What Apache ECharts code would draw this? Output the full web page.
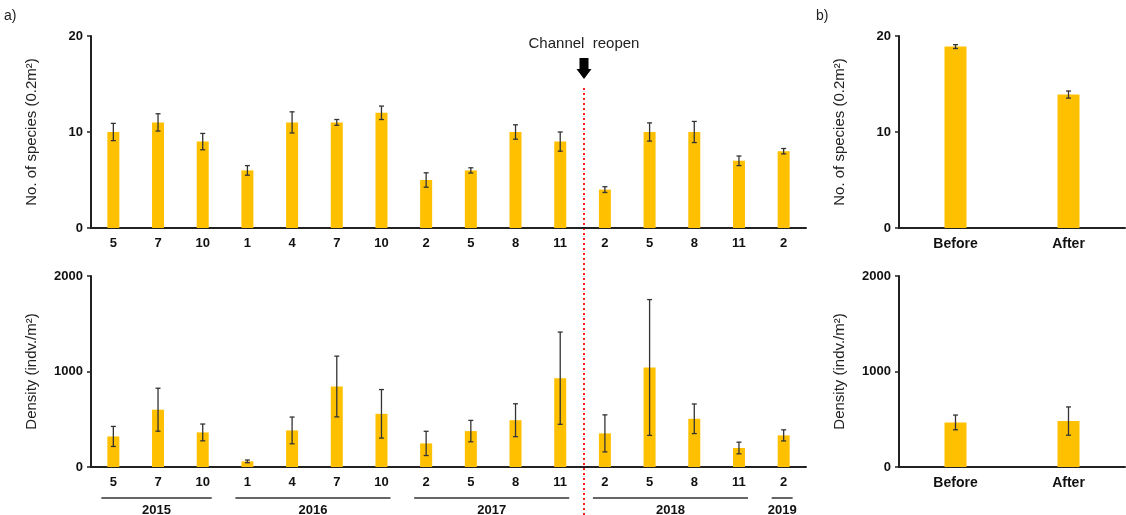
<!DOCTYPE html>
<html>
<head>
<meta charset="utf-8">
<title>Species and density</title>
<script src="https://cdn.jsdelivr.net/npm/echarts@6/dist/echarts.min.js"></script>
<style>
html, body { margin: 0; padding: 0; background: #fff; }
#chart { width: 1126px; height: 515px; }
</style>
</head>
<body>
<div id="chart"></div>
<script>
// sampling months, 2015-5 .. 2019-2
var months = ['5', '7', '10', '1', '4', '7', '10', '2', '5', '8', '11', '2', '5', '8', '11', '2']
var speciesMean = [10, 11, 9, 6, 11, 11, 12, 5, 6, 10, 9, 4, 10, 10, 7, 8]
var speciesErr = [0.9, 0.9, 0.85, 0.5, 1.1, 0.3, 0.7, 0.75, 0.27, 0.75, 1.0, 0.3, 0.95, 1.1, 0.5, 0.28]
var densityMean = [320, 600, 362, 59, 383, 843, 557, 247, 376, 490, 930, 352, 1042, 505, 199, 331]
var densityErr = [105, 225, 88, 14, 140, 318, 254, 127, 112, 172, 483, 194, 711, 155, 61, 58]

// year groups under the bottom axis (first / last month index)
var yearNames = ['2015', '2016', '2017', '2018', '2019']
var yearFirst = [0, 3, 7, 11, 15]
var yearLast = [2, 6, 10, 14, 15]

// before / after channel reopening
var periods = ['Before', 'After']
var periodSpecies = [18.9, 13.9]
var periodSpeciesErr = [0.2, 0.37]
var periodDensity = [467, 481]
var periodDensityErr = [77, 148]

var speciesTicks = [0, 20, 10]
var densityTicks = [0, 2000, 1000]

var reopenAfter = 10 // line drawn between this month and the next

var barColor = '#FFC000'
var inkColor = '#222'
var font = 'Liberation Sans, Arial, sans-serif'

function errorItem (params, api) {
  var x = api.value(0)
  var m = api.value(1)
  var e = api.value(2)
  var hi = api.coord([x, m + e])
  var lo = api.coord([x, m - e])
  var w = 2.5
  var style = { stroke: '#333', lineWidth: 1.3 }
  return {
    type: 'group',
    children: [
      { type: 'line', shape: { x1: hi[0], y1: hi[1], x2: lo[0], y2: lo[1] }, style: style },
      { type: 'line', shape: { x1: hi[0] - w, y1: hi[1], x2: hi[0] + w, y2: hi[1] }, style: style },
      { type: 'line', shape: { x1: lo[0] - w, y1: lo[1], x2: lo[0] + w, y2: lo[1] }, style: style }
    ]
  }
}

function toErr (means, errs) {
  return means.map(function (v, i) { return [i, v, errs[i]] })
}

function xAxisOf (grid, cats, size) {
  return {
    type: 'category',
    gridIndex: grid,
    data: cats,
    axisLine: { lineStyle: { color: '#222', width: 2 } },
    axisTick: { length: 5, lineStyle: { color: '#222', width: 1.5 } },
    axisLabel: { color: '#111', fontWeight: 'bold', fontSize: size, fontFamily: font, margin: 9 }
  }
}

function yAxisOf (grid, ticks, name) {
  return {
    type: 'value',
    gridIndex: grid,
    min: ticks[0],
    max: ticks[1],
    interval: ticks[2],
    name: name,
    nameLocation: 'middle',
    nameRotate: 90,
    nameGap: 52,
    nameTextStyle: { color: inkColor, fontSize: 15, fontFamily: font },
    splitLine: { show: false },
    axisLine: { show: true, lineStyle: { color: '#222', width: 2 } },
    axisTick: { show: true, length: 4, lineStyle: { color: '#222', width: 1.5 } },
    axisLabel: {
      color: '#111',
      fontWeight: 'bold',
      fontSize: 13,
      fontFamily: font,
      margin: 8,
      formatter: function (v) { return String(v) }
    }
  }
}

var mycharts = echarts.init(document.getElementById('chart'))
mycharts.setOption({
  animation: false,
  grid: [
    { left: 91, top: 36, width: 715, height: 192 },
    { left: 91, top: 276, width: 715, height: 191 },
    { left: 899, top: 36, width: 226, height: 192 },
    { left: 899, top: 276, width: 226, height: 191 }
  ],
  xAxis: [
    xAxisOf(0, months, 13),
    xAxisOf(1, months, 13),
    xAxisOf(2, periods, 14),
    xAxisOf(3, periods, 14)
  ],
  yAxis: [
    yAxisOf(0, speciesTicks, 'No. of species (0.2m²)'),
    yAxisOf(1, densityTicks, 'Density (indv./m²)'),
    yAxisOf(2, speciesTicks, 'No. of species (0.2m²)'),
    yAxisOf(3, densityTicks, 'Density (indv./m²)')
  ],
  series: [
    { type: 'bar', xAxisIndex: 0, yAxisIndex: 0, data: speciesMean, barWidth: 12, itemStyle: { color: barColor } },
    { type: 'bar', xAxisIndex: 1, yAxisIndex: 1, data: densityMean, barWidth: 12, itemStyle: { color: barColor } },
    { type: 'bar', xAxisIndex: 2, yAxisIndex: 2, data: periodSpecies, barWidth: 22, itemStyle: { color: barColor } },
    { type: 'bar', xAxisIndex: 3, yAxisIndex: 3, data: periodDensity, barWidth: 22, itemStyle: { color: barColor } },
    { type: 'custom', xAxisIndex: 0, yAxisIndex: 0, renderItem: errorItem, data: toErr(speciesMean, speciesErr), z: 5 },
    { type: 'custom', xAxisIndex: 1, yAxisIndex: 1, renderItem: errorItem, data: toErr(densityMean, densityErr), z: 5 },
    { type: 'custom', xAxisIndex: 2, yAxisIndex: 2, renderItem: errorItem, data: toErr(periodSpecies, periodSpeciesErr), z: 5 },
    { type: 'custom', xAxisIndex: 3, yAxisIndex: 3, renderItem: errorItem, data: toErr(periodDensity, periodDensityErr), z: 5 }
  ]
})

// annotations placed from the axis scales
var graphics = []
var textStyle = { fill: '#111', font: 'bold 13px ' + font, textAlign: 'center', textVerticalAlign: 'middle' }
yearNames.forEach(function (name, i) {
  var a = mycharts.convertToPixel({ gridIndex: 1 }, [yearFirst[i], 0])
  var b = mycharts.convertToPixel({ gridIndex: 1 }, [yearLast[i], 0])
  var x1 = a[0] - 12
  var x2 = b[0] + 9
  graphics.push({ type: 'line', shape: { x1: x1, y1: 498, x2: x2, y2: 498 }, style: { stroke: '#333', lineWidth: 1.5 } })
  graphics.push({ type: 'text', x: (x1 + x2) / 2, y: 510, style: Object.assign({ text: name }, textStyle) })
})

var p1 = mycharts.convertToPixel({ gridIndex: 0 }, [reopenAfter, 0])
var p2 = mycharts.convertToPixel({ gridIndex: 0 }, [reopenAfter + 1, 0])
var rx = Math.round((p1[0] + p2[0]) / 2) + 1
graphics.push({ type: 'line', shape: { x1: rx, y1: 88, x2: rx, y2: 515 }, style: { stroke: '#ff1a1a', lineWidth: 2, lineDash: [2, 3] } })
graphics.push({
  type: 'polygon',
  shape: { points: [[rx - 4.5, 58], [rx + 4.5, 58], [rx + 4.5, 69], [rx + 7.5, 69], [rx, 79], [rx - 7.5, 69], [rx - 4.5, 69]] },
  style: { fill: '#000' }
})
graphics.push({ type: 'text', x: rx, y: 44, style: { text: 'Channel  reopen', fill: inkColor, font: '15px ' + font, textAlign: 'center', textVerticalAlign: 'middle' } })
graphics.push({ type: 'text', x: 4, y: 16, style: { text: 'a)', fill: inkColor, font: '14px ' + font, textVerticalAlign: 'middle' } })
graphics.push({ type: 'text', x: 816, y: 16, style: { text: 'b)', fill: inkColor, font: '14px ' + font, textVerticalAlign: 'middle' } })

mycharts.setOption({ graphic: graphics })
</script>
</body>
</html>
